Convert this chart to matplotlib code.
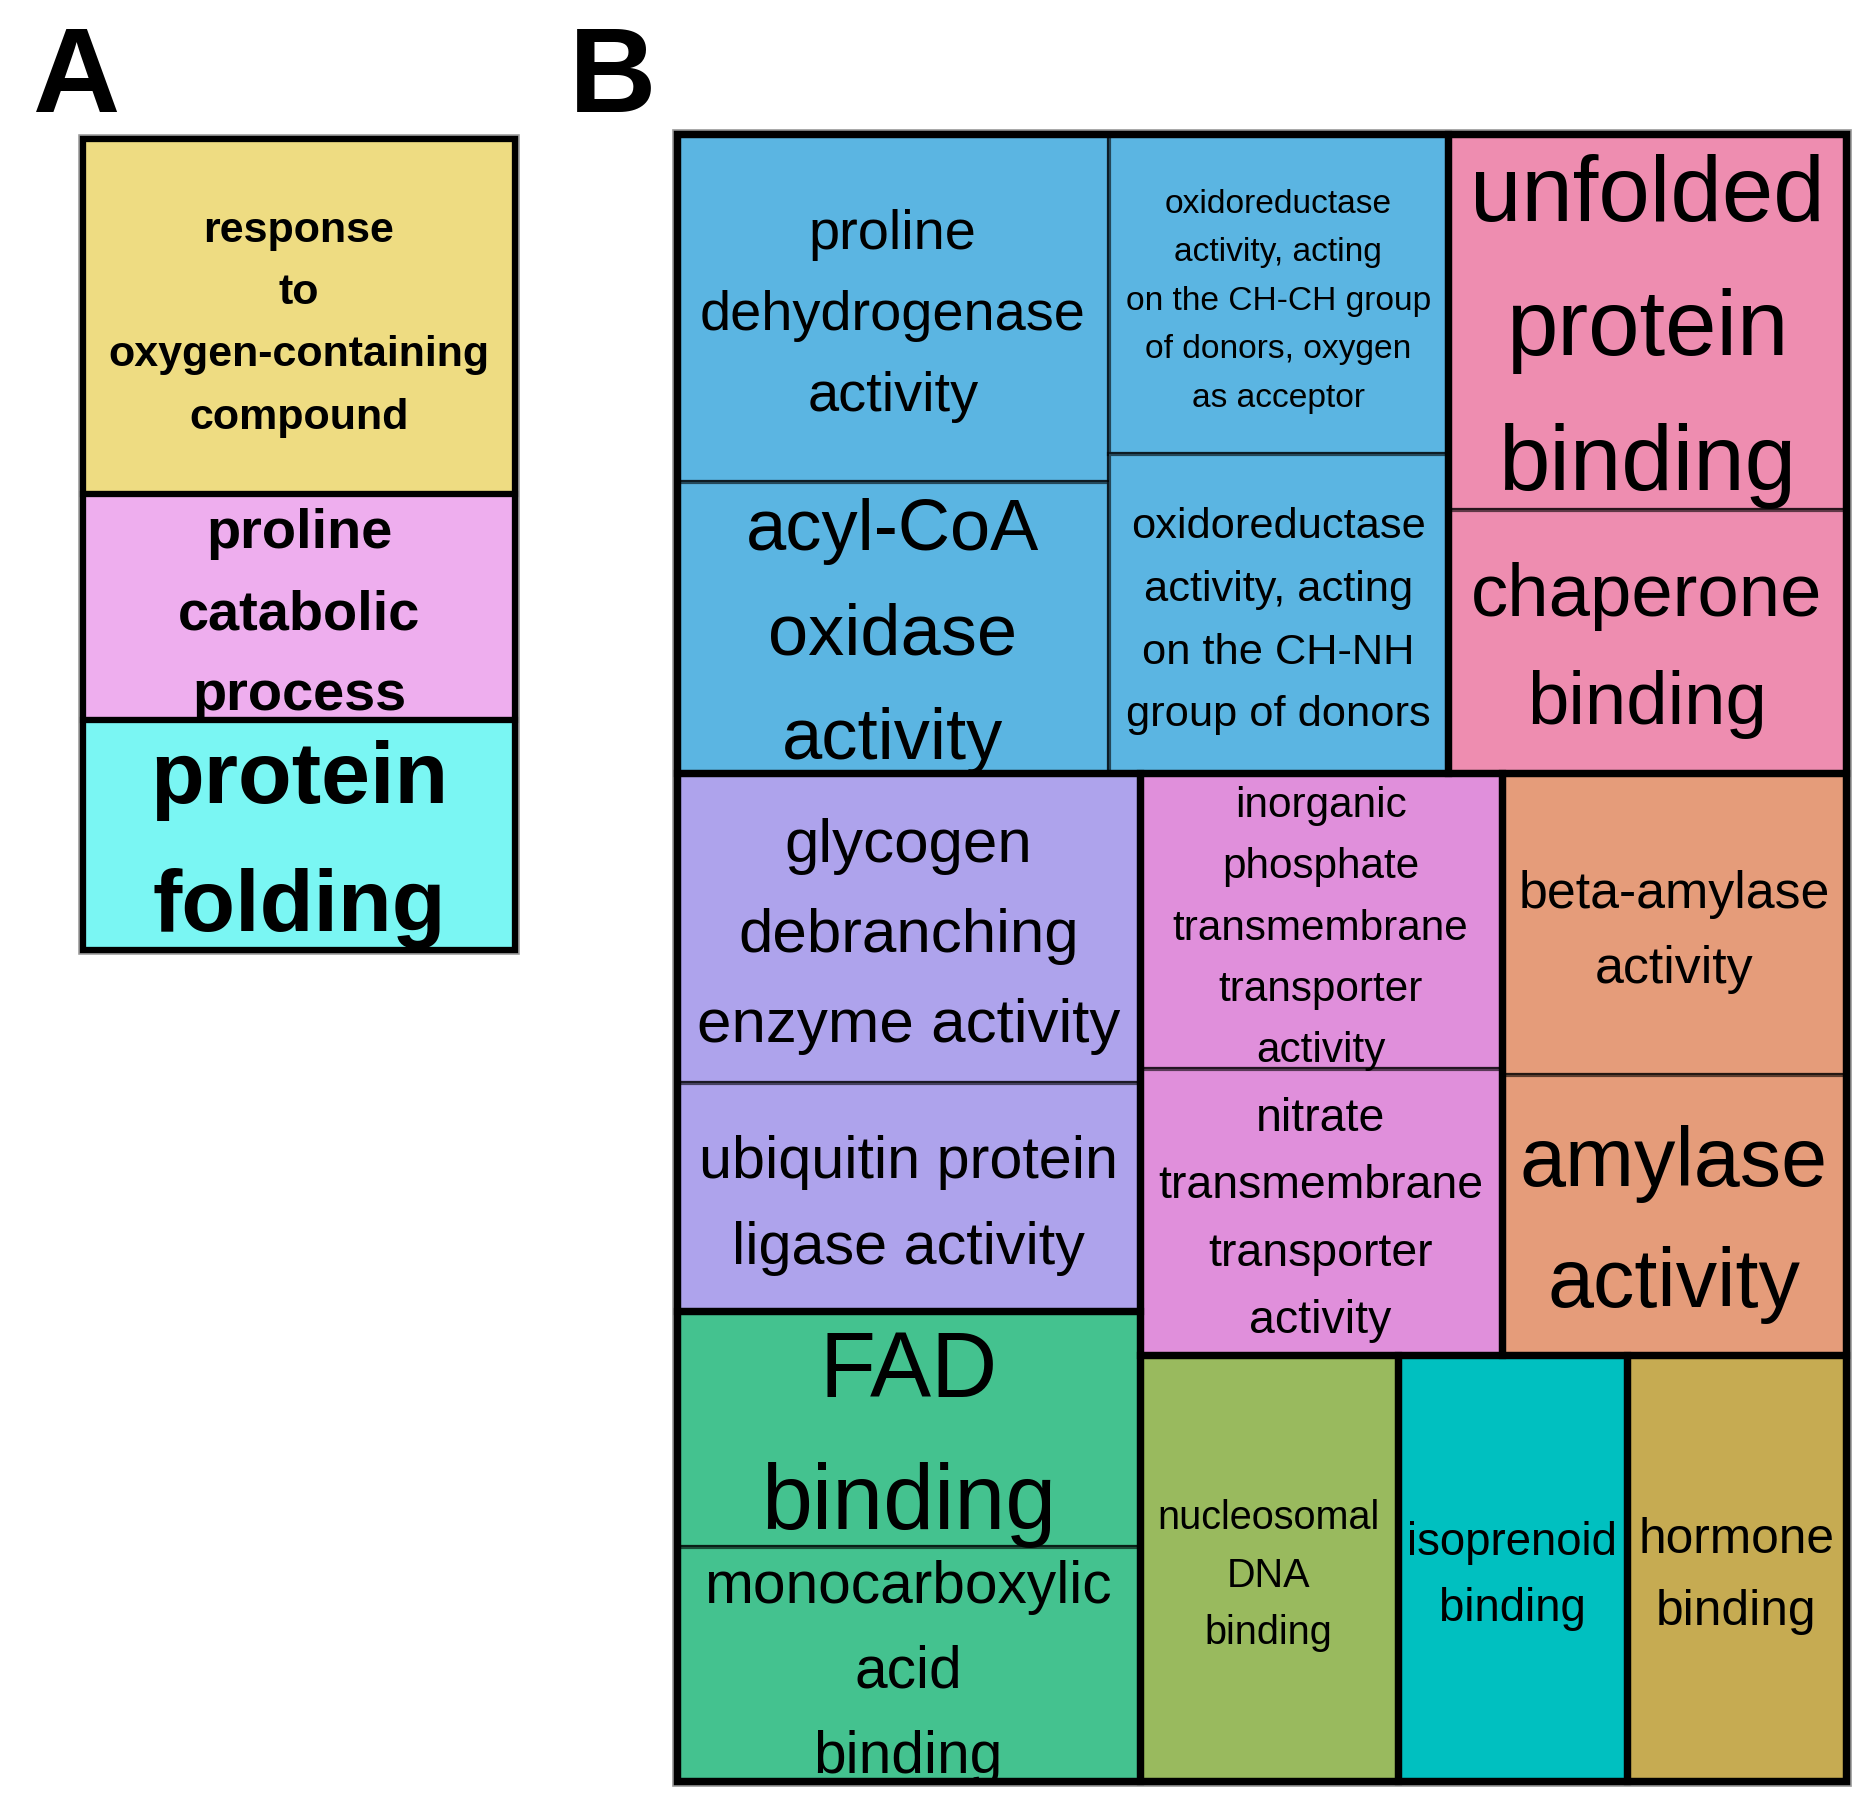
import matplotlib
matplotlib.use("Agg")
import matplotlib.pyplot as plt
from matplotlib.patches import Rectangle

W, H = 1876, 1820
DPI = 100
FONT = "Liberation Sans"

# panel A: biological process terms
bp_terms = ["response\nto\noxygen-containing\ncompound",
            "proline\ncatabolic\nprocess",
            "protein\nfolding"]
bp_sizes = [3.55, 2.26, 2.30]
bp_colors = ["#EEDC82", "#EEAEEE", "#7AF6F3"]
bp_fontsize = [31, 40.3, 63.4]

# panel B: molecular function terms
mf_terms = ["proline\ndehydrogenase\nactivity",
            "acyl-CoA\noxidase\nactivity",
            "oxidoreductase\nactivity, acting\non the CH-CH group\nof donors, oxygen\nas acceptor",
            "oxidoreductase\nactivity, acting\non the CH-NH\ngroup of donors",
            "unfolded\nprotein\nbinding",
            "chaperone\nbinding",
            "glycogen\ndebranching\nenzyme activity",
            "ubiquitin protein\nligase activity",
            "FAD\nbinding",
            "monocarboxylic\nacid\nbinding",
            "inorganic\nphosphate\ntransmembrane\ntransporter\nactivity",
            "nitrate\ntransmembrane\ntransporter\nactivity",
            "beta-amylase\nactivity",
            "amylase\nactivity",
            "nucleosomal\nDNA\nbinding",
            "isoprenoid\nbinding",
            "hormone\nbinding"]
mf_sizes = [1.505, 1.263, 1.088, 1.088, 1.500, 1.053, 1.437, 1.061, 1.094,
            1.085, 1.074, 1.042, 1.042, 0.969, 1.103, 0.976, 0.937]
mf_groups = [0, 0, 0, 0, 1, 1, 2, 2, 3, 3, 4, 4, 5, 5, 6, 7, 8]
mf_colors = ["#5BB5E2", "#EE8DB0", "#AEA3EC", "#44C28F", "#E08FDB",
             "#E59C7A", "#99BA5E", "#00C0C0", "#C6AB52"]
mf_fontsize = [40.3, 52, 24.1, 31.2, 66.6, 53.6, 44.6, 42.7, 66, 42.2,
               30.4, 33.4, 37.4, 59.6, 28.5, 32.8, 35.7]

# slice-and-dice nesting of the treemaps ("h" side by side, "v" stacked)
bp_tree = ("v", [0, 1, 2])
mf_tree = ("v", [
    ("h", [("h", [("v", [0, 1]), ("v", [2, 3])]), ("v", [4, 5])]),
    ("h", [("v", [("v", [6, 7]), ("v", [8, 9])]),
           ("v", [("h", [("v", [10, 11]), ("v", [12, 13])]),
                  ("h", [14, 15, 16])])]),
])


def node_size(node, sizes):
    if isinstance(node, int):
        return sizes[node]
    return sum(node_size(c, sizes) for c in node[1])


def slice_layout(node, sizes, x0, y0, x1, y1, out):
    if isinstance(node, int):
        out[node] = (x0, y0, x1, y1)
        return
    d, kids = node
    tot = node_size(node, sizes)
    pos = x0 if d == "h" else y0
    for k in kids:
        frac = node_size(k, sizes) / tot
        if d == "h":
            nxt = pos + frac * (x1 - x0)
            slice_layout(k, sizes, pos, y0, nxt, y1, out)
        else:
            nxt = pos + frac * (y1 - y0)
            slice_layout(k, sizes, x0, pos, x1, nxt, out)
        pos = nxt


def draw_label(ax, rect, text, fs, bold, clip):
    x0, y0, x1, y1 = rect
    lines = text.split("\n")
    em = fs * DPI / 72
    step = 1.45 * em
    cx = (x0 + x1) / 2
    cy = (y0 + y1) / 2 + 6 + 0.04 * em
    for i, ln in enumerate(lines):
        y = cy + (i - (len(lines) - 1) / 2) * step
        t = ax.text(cx, y, ln, ha="center", va="center", fontsize=fs,
                    fontweight="bold" if bold else "normal",
                    family=FONT, color="black", zorder=3)
        t.set_clip_path(clip)


def draw_treemap(ax, tree, sizes, terms, fills, groups, fsizes, box, bold,
                 group_lw, inner_lw):
    rects = {}
    slice_layout(tree, sizes, *box, rects)
    for i, (x0, y0, x1, y1) in rects.items():
        r = Rectangle((x0, y0), x1 - x0, y1 - y0, facecolor=fills[i],
                      edgecolor=(0, 0, 0, 0.6), linewidth=inner_lw, zorder=2)
        ax.add_patch(r)
        draw_label(ax, rects[i], terms[i], fsizes[i], bold, r)
    for g in sorted(set(groups)):
        idx = [i for i in rects if groups[i] == g]
        gx0 = min(rects[i][0] for i in idx)
        gy0 = min(rects[i][1] for i in idx)
        gx1 = max(rects[i][2] for i in idx)
        gy1 = max(rects[i][3] for i in idx)
        ax.add_patch(Rectangle((gx0, gy0), gx1 - gx0, gy1 - gy0,
                               facecolor="none", edgecolor="black",
                               linewidth=group_lw, zorder=4))
    x0, y0, x1, y1 = box
    ax.add_patch(Rectangle((x0, y0), x1 - x0, y1 - y0, facecolor="none",
                           edgecolor="#9a9a9a", linewidth=group_lw + 2.5,
                           zorder=1.5))
    ax.add_patch(Rectangle((x0, y0), x1 - x0, y1 - y0, facecolor="none",
                           edgecolor="black", linewidth=group_lw, zorder=5))


fig = plt.figure(figsize=(W / DPI, H / DPI), dpi=DPI)
ax = fig.add_axes([0, 0, 1, 1])
ax.set_xlim(0, W)
ax.set_ylim(H, 0)
ax.axis("off")

draw_treemap(ax, bp_tree, bp_sizes, bp_terms, bp_colors, [0, 1, 2],
             bp_fontsize, (83, 139, 515, 950), True, 4.4, 4.4)
draw_treemap(ax, mf_tree, mf_sizes, mf_terms,
             [mf_colors[g] for g in mf_groups], mf_groups, mf_fontsize,
             (677, 134, 1846, 1781), False, 5.2, 3.0)

ax.text(33, 112, "A", fontsize=87, fontweight="bold", family=FONT,
        ha="left", va="baseline")
ax.text(569, 112, "B", fontsize=87, fontweight="bold", family=FONT,
        ha="left", va="baseline")

fig.savefig("out.png", dpi=DPI)
